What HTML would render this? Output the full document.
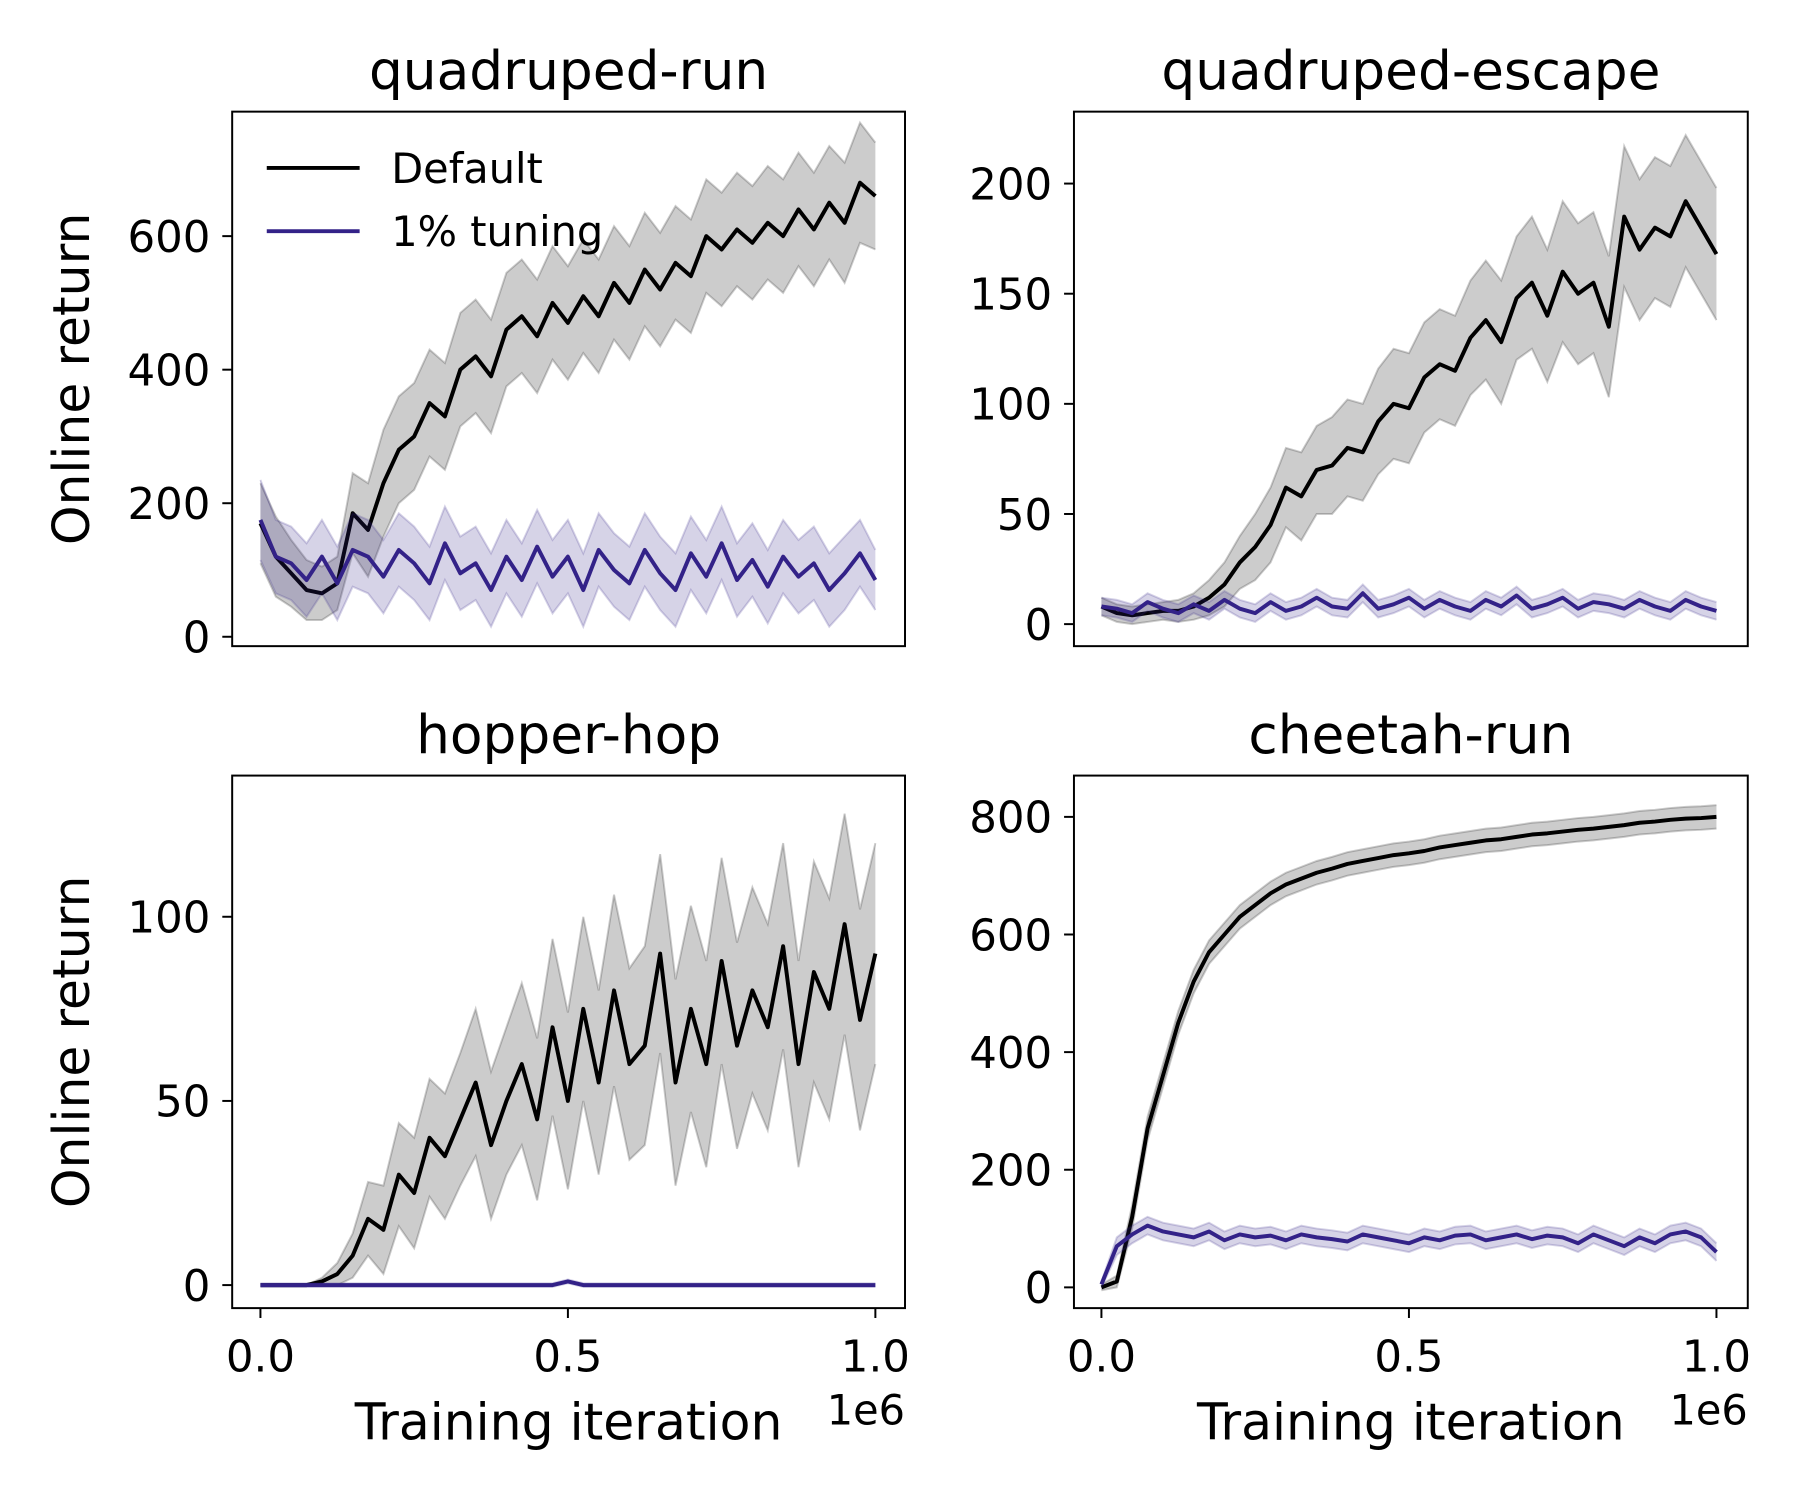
<!DOCTYPE html>
<html><head><meta charset="utf-8"><style>
body{margin:0;background:#fff}
svg{display:block;font-family:"DejaVu Sans","Liberation Sans",sans-serif}
</style></head><body>
<svg width="1800" height="1500" viewBox="0 0 1800 1500" xmlns="http://www.w3.org/2000/svg"><g id="fig" transform="scale(0.988)"></g></svg>
<script>
// x positions (fraction of 1e6), 41 points
const xs = Array.from({length:41},(_, i)=>i/40);
// quadruped-run
const qrDefault = [170,120,95,70,65,80,185,160,230,280,300,350,330,400,420,390,460,480,450,500,470,510,480,530,500,550,520,560,540,600,580,610,590,620,600,640,610,650,620,680,660];
const qrDefaultSd = [60,60,50,45,40,40,60,70,80,80,80,80,80,85,85,85,85,85,85,85,85,85,85,85,85,85,85,85,85,85,85,85,85,85,85,85,85,85,90,90,80];
const qrTuning = [175,120,110,85,120,80,130,120,90,130,110,80,140,95,110,70,120,85,135,90,120,70,130,100,80,130,95,70,125,90,140,85,115,75,120,90,110,70,95,125,85];
const qrTuningSd = [60,55,55,55,55,55,55,55,55,55,55,55,55,55,55,55,55,55,55,55,55,55,55,55,55,55,55,55,55,55,55,55,55,55,55,55,55,55,55,50,45];
// quadruped-escape
const qeDefault = [8,5,4,5,6,6,8,12,18,28,35,45,62,58,70,72,80,78,92,100,98,112,118,115,130,138,128,148,155,140,160,150,155,135,185,170,180,176,192,180,168];
const qeDefaultSd = [4,4,4,4,4,5,6,8,10,12,15,17,18,20,20,22,22,22,24,25,25,25,25,25,26,27,28,28,30,30,32,32,32,32,32,32,32,32,30,30,30];
const qeTuning = [8,7,5,10,7,5,9,6,11,7,5,10,6,8,12,8,7,14,7,9,12,7,11,8,6,11,8,13,7,9,12,7,10,9,7,11,8,6,11,8,6];
const qeTuningSd = [4,4,4,4,4,4,4,4,4,4,4,4,4,4,4,4,4,4,4,4,4,4,4,4,4,4,4,4,4,4,4,4,4,4,4,4,4,4,4,4,4];
// hopper-hop
const hhDefault = [0,0,0,0,1,3,8,18,15,30,25,40,35,45,55,38,50,60,45,70,50,75,55,80,60,65,90,55,75,60,88,65,80,70,92,60,85,75,98,72,90];
const hhDefaultSd = [0,0,0,0,1,3,6,10,12,14,15,16,17,18,20,20,20,22,22,24,24,25,25,26,26,27,27,28,28,28,28,28,28,28,28,28,30,30,30,30,30];
const hhTuning = [0,0,0,0,0,0,0,0,0,0,0,0,0,0,0,0,0,0,0,0,1,0,0,0,0,0,0,0,0,0,0,0,0,0,0,0,0,0,0,0,0];
const hhTuningSd = [0.5,0.5,0.5,0.5,0.5,0.5,0.5,0.5,0.5,0.5,0.5,0.5,0.5,0.5,0.5,0.5,0.5,0.5,0.5,0.5,0.5,0.5,0.5,0.5,0.5,0.5,0.5,0.5,0.5,0.5,0.5,0.5,0.5,0.5,0.5,0.5,0.5,0.5,0.5,0.5,0.5];
// cheetah-run
const crDefault = [0,10,120,270,360,450,520,570,600,630,650,670,685,695,705,712,720,725,730,735,738,742,748,752,756,760,762,766,770,772,775,778,780,783,786,790,792,795,797,798,800];
const crDefaultSd = [5,10,20,20,20,20,20,20,20,20,20,20,20,20,20,20,20,20,20,20,20,20,20,20,20,20,20,20,20,20,20,20,20,20,20,20,20,20,20,20,20];
const crTuning = [5,70,90,105,95,90,85,95,80,90,85,88,80,90,85,82,78,90,85,80,75,85,80,88,90,80,85,90,82,88,85,75,90,80,70,85,75,90,95,85,60];
const crTuningSd = [5,15,15,15,15,15,15,15,15,15,15,15,15,15,15,15,15,15,15,15,15,15,15,15,15,15,15,15,15,15,15,15,15,15,15,15,15,15,15,15,15];

const titles = ["quadruped-run","quadruped-escape","hopper-hop","cheetah-run"];
const yTicks = [[0,200,400,600],[0,50,100,150,200],[0,50,100],[0,200,400,600,800]];
const xTicks = [0,0.5,1.0];
const xTickLabels = ["0.0","0.5","1.0"];

const NS="http://www.w3.org/2000/svg";
const svg=document.getElementById('fig');
function mk(tag,attrs,parent){const e=document.createElementNS(NS,tag);for(const k in attrs)e.setAttribute(k,attrs[k]);(parent||svg).appendChild(e);return e;}

const panels=[
 {L:235,R:916,T:113,B:654,y0:644.5,ppu:405.5/600,x0:263.6,x1:886,d:qrDefault,ds:qrDefaultSd,t:qrTuning,ts:qrTuningSd,xlab:false,ylab:true},
 {L:1087,R:1769,T:113,B:654,y0:631.7,ppu:445.9/200,x0:1114.8,x1:1737.3,d:qeDefault,ds:qeDefaultSd,t:qeTuning,ts:qeTuningSd,xlab:false,ylab:false},
 {L:235,R:916,T:785,B:1324,y0:1300.7,ppu:372.8/100,x0:263.6,x1:886,d:hhDefault,ds:hhDefaultSd,t:hhTuning,ts:hhTuningSd,xlab:true,ylab:true},
 {L:1087,R:1769,T:785,B:1324,y0:1303,ppu:476.2/800,x0:1114.8,x1:1737.3,d:crDefault,ds:crDefaultSd,t:crTuning,ts:crTuningSd,xlab:true,ylab:false}
];

panels.forEach((p,i)=>{
  const g=mk('g',{});
  
  
  const X=v=>p.x0+v*(p.x1-p.x0);
  const Y=v=>p.y0-v*p.ppu;
  function series(mean,sd,color,name){
    const up=mean.map((m,k)=>[X(xs[k]),Y(m+sd[k])]);
    const lo=mean.map((m,k)=>[X(xs[k]),Y(m-sd[k])]);
    const band=mk('path',{d:'M'+up.map(q=>q.join(',')).join('L')+'L'+lo.slice().reverse().map(q=>q.join(',')).join('L')+'Z',fill:color,'fill-opacity':0.2,stroke:'none'},g);
    
    
    [up,lo].forEach(arr=>{
      const e=mk('polyline',{points:arr.map(q=>q.join(',')).join(' '),fill:'none',stroke:color,'stroke-opacity':0.2,'stroke-width':2},g);
      
      
    });
    const ln=mk('polyline',{points:mean.map((m,k)=>X(xs[k])+','+Y(m)).join(' '),fill:'none',stroke:color,'stroke-width':4,'stroke-linejoin':'round'},g);
    
    
  }
  series(p.d,p.ds,'#000000','default');
  series(p.t,p.ts,'#332288','tuning');
  const fr=mk('rect',{x:p.L,y:p.T,width:p.R-p.L,height:p.B-p.T,fill:'none',stroke:'#000','stroke-width':2},g);
  
  
  const tt=mk('text',{x:(p.L+p.R)/2,y:p.T-23,'text-anchor':'middle','font-size':54},g);
  tt.textContent=titles[i];
  
  
  yTicks[i].forEach(v=>{
    mk('line',{x1:p.L-10,x2:p.L,y1:Y(v),y2:Y(v),stroke:'#000','stroke-width':2},g);
    const t=mk('text',{x:p.L-22,y:Y(v)+16,'text-anchor':'end','font-size':44},g);
    t.textContent=v;
    
    
  });
  if(p.ylab){
    const cy=(p.T+p.B)/2;
    const yl=mk('text',{x:0,y:0,'text-anchor':'middle','font-size':51,transform:`translate(90,${cy}) rotate(-90)`},g);
    yl.textContent='Online return';
    
    
  }
  if(p.xlab){
    xTicks.forEach((v,k)=>{
      mk('line',{x1:X(v),x2:X(v),y1:p.B,y2:p.B+10,stroke:'#000','stroke-width':2},g);
      const t=mk('text',{x:X(v),y:p.B+64,'text-anchor':'middle','font-size':44},g);
      t.textContent=xTickLabels[k];
      
      
    });
    const xl=mk('text',{x:(p.L+p.R)/2,y:1457,'text-anchor':'middle','font-size':51},g);
    xl.textContent='Training iteration';
    
    
    const off=mk('text',{x:p.R,y:1442,'text-anchor':'end','font-size':42},g);
    off.textContent='1e6';
    
    
  }
});
const lg=mk('g',{});


[['Default','#000',170],['1% tuning','#332288',234]].forEach(([lab,c,y])=>{
  mk('line',{x1:270,x2:364,y1:y,y2:y,stroke:c,'stroke-width':4},lg);
  const t=mk('text',{x:396,y:y+15,'font-size':42},lg);
  t.textContent=lab;
  
  
});
</script>
</body></html>
